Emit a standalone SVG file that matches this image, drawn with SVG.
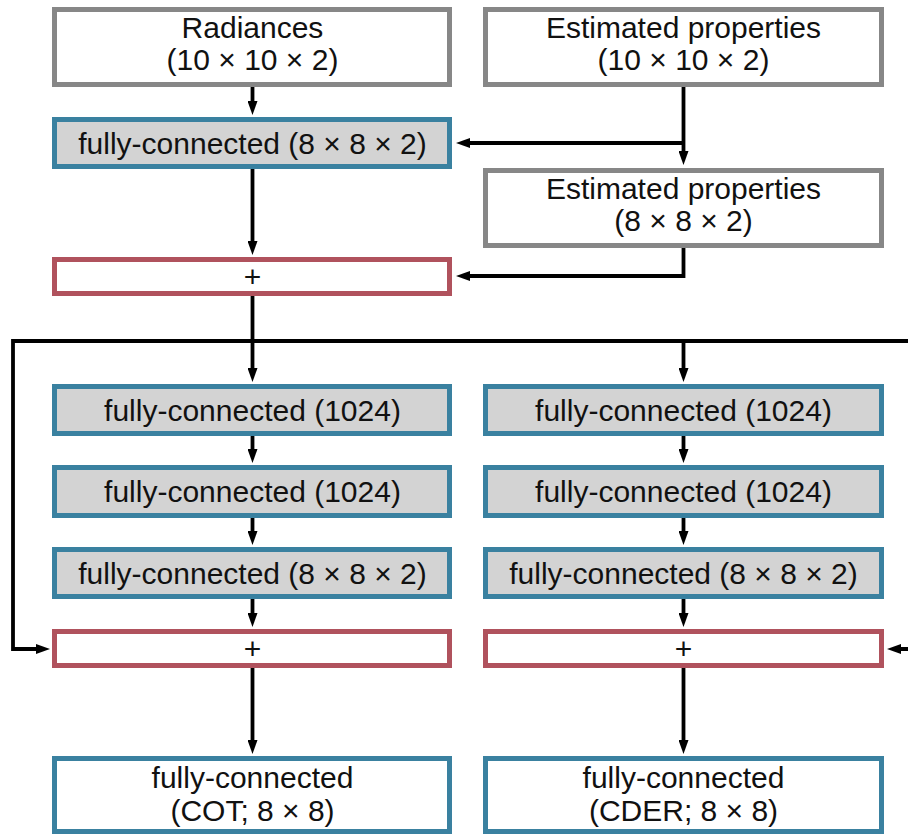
<svg xmlns="http://www.w3.org/2000/svg" width="908" height="834" viewBox="0 0 908 834">
<style>
text{font-family:"Liberation Sans",Arial,Helvetica,sans-serif;font-size:30px;fill:#111;text-anchor:middle}
.in{fill:#fff;stroke:#878787;stroke-width:5}
.fc{fill:#d3d3d3;stroke:#3a81a0;stroke-width:5}
.out{fill:#fff;stroke:#3a81a0;stroke-width:5}
.add{fill:#fff;stroke:#b0525d;stroke-width:5}
.c{fill:none;stroke:#000;stroke-width:3.8}
.a{marker-end:url(#ah)}
</style>
<defs>
<marker id="ah" viewBox="0 0 14 10" refX="4" refY="5" markerWidth="14" markerHeight="10" markerUnits="userSpaceOnUse" orient="auto">
<path d="M0,0 L14,5 L0,10 z" fill="#000"/>
</marker>
</defs>
<g id="connectors">
<path class="c a" d="M252.5,87 V105"/>
<path class="c a" d="M683.5,87 V155"/>
<path class="c a" d="M683.5,143 H466"/>
<path class="c a" d="M252.5,169 V245"/>
<path class="c a" d="M683.5,248 V276 H466"/>
<path class="c a" d="M252.5,296 V372"/>
<path class="c a" d="M252.5,341 H13 V649 H40"/>
<path class="c a" d="M252.5,341 H920 V649 H897"/>
<path class="c a" d="M683.5,341 V372"/>
<path class="c a" d="M252.5,436 V453"/>
<path class="c a" d="M252.5,518 V535"/>
<path class="c a" d="M252.5,599 V617"/>
<path class="c a" d="M252.5,668 V744"/>
<path class="c a" d="M683.5,436 V453"/>
<path class="c a" d="M683.5,518 V535"/>
<path class="c a" d="M683.5,599 V617"/>
<path class="c a" d="M683.5,668 V744"/>
</g>
<g id="radiances"><rect class="in" x="54.5" y="9.5" width="395" height="75"/><text x="252.5" y="38">Radiances</text><text x="252.5" y="70">(10 × 10 × 2)</text></g>
<g id="est1"><rect class="in" x="485.5" y="9.5" width="396" height="75"/><text x="683.5" y="38">Estimated properties</text><text x="683.5" y="70">(10 × 10 × 2)</text></g>
<g id="fc0"><rect class="fc" x="54.5" y="119.5" width="395" height="47"/><text x="252.5" y="153.5">fully-connected (8 × 8 × 2)</text></g>
<g id="est2"><rect class="in" x="485.5" y="170.5" width="396" height="75"/><text x="683.5" y="199">Estimated properties</text><text x="683.5" y="231">(8 × 8 × 2)</text></g>
<g id="add0"><rect class="add" x="54.5" y="259.5" width="395" height="34"/><text x="252.5" y="287">+</text></g>
<g id="fcL1"><rect class="fc" x="54.5" y="386.5" width="395" height="47"/><text x="252.5" y="420.5">fully-connected (1024)</text></g>
<g id="fcR1"><rect class="fc" x="485.5" y="386.5" width="396" height="47"/><text x="683.5" y="420.5">fully-connected (1024)</text></g>
<g id="fcL2"><rect class="fc" x="54.5" y="467.5" width="395" height="48"/><text x="252.5" y="502">fully-connected (1024)</text></g>
<g id="fcR2"><rect class="fc" x="485.5" y="467.5" width="396" height="48"/><text x="683.5" y="502">fully-connected (1024)</text></g>
<g id="fcL3"><rect class="fc" x="54.5" y="549.5" width="395" height="47"/><text x="252.5" y="583.5">fully-connected (8 × 8 × 2)</text></g>
<g id="fcR3"><rect class="fc" x="485.5" y="549.5" width="396" height="47"/><text x="683.5" y="583.5">fully-connected (8 × 8 × 2)</text></g>
<g id="addL"><rect class="add" x="54.5" y="631.5" width="395" height="34"/><text x="252.5" y="659">+</text></g>
<g id="addR"><rect class="add" x="485.5" y="631.5" width="396" height="34"/><text x="683.5" y="659">+</text></g>
<g id="outL"><rect class="out" x="54.5" y="758.5" width="395" height="73"/><text x="252.5" y="788">fully-connected</text><text x="252.5" y="821">(COT; 8 × 8)</text></g>
<g id="outR"><rect class="out" x="485.5" y="758.5" width="396" height="73"/><text x="683.5" y="788">fully-connected</text><text x="683.5" y="821">(CDER; 8 × 8)</text></g>
</svg>
